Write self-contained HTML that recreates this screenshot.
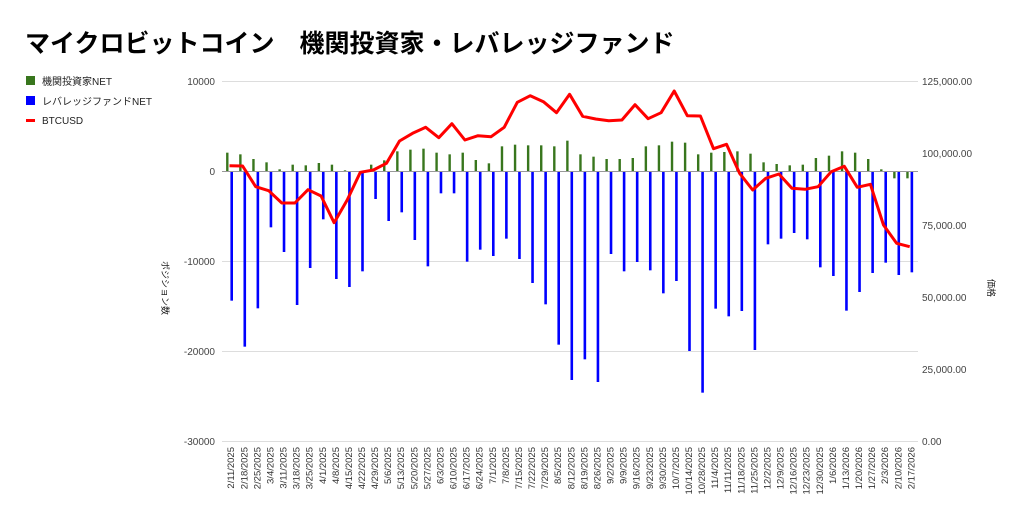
<!DOCTYPE html>
<html><head><meta charset="utf-8"><style>
body{margin:0;background:#fff;width:1024px;height:522px;overflow:hidden}
</style></head><body>
<svg id="s" width="1024" height="522" xmlns="http://www.w3.org/2000/svg" font-family="Liberation Sans, Noto Sans CJK JP, sans-serif">
<text x="25" y="52" font-size="25" font-weight="bold" fill="#000">マイクロビットコイン　機関投資家・レバレッジファンド</text>
<rect x="26" y="76" width="9" height="9" fill="#38761d"/>
<text x="42" y="85" font-size="10" fill="#222">機関投資家NET</text>
<rect x="26" y="96" width="9" height="9" fill="#0000ff"/>
<text x="42" y="105" font-size="10" fill="#222">レバレッジファンドNET</text>
<rect x="26" y="119" width="9" height="3" fill="#ff0000"/>
<text x="42" y="124" font-size="10" fill="#222">BTCUSD</text>
<g stroke="#ddd" stroke-width="1">
<line x1="222" y1="81.5" x2="918" y2="81.5"/>
<line x1="222" y1="261.5" x2="918" y2="261.5"/>
<line x1="222" y1="351.5" x2="918" y2="351.5"/>
<line x1="222" y1="441.5" x2="918" y2="441.5"/>
</g>
<g font-size="10" fill="#444" text-anchor="end">
<text x="215" y="85">10000</text><text x="215" y="175">0</text><text x="215" y="265">-10000</text><text x="215" y="355">-20000</text><text x="215" y="445">-30000</text>
</g>
<g font-size="10" fill="#444">
<text x="922" y="85">125,000.00</text><text x="922" y="157">100,000.00</text><text x="922" y="229">75,000.00</text><text x="922" y="301">50,000.00</text><text x="922" y="373">25,000.00</text><text x="922" y="445">0.00</text>
</g>
<text transform="translate(162,288) rotate(90)" font-size="9" fill="#222" text-anchor="middle">ポジション数</text>
<text transform="translate(988,288) rotate(90)" font-size="9" fill="#222" text-anchor="middle">価格</text>
<g id="bars"></g>
<line x1="222" y1="171.5" x2="918" y2="171.5" stroke="#999" stroke-width="1"/>
<polyline id="btc" fill="none" stroke="#ff0000" stroke-width="3" stroke-linejoin="round"/>
<g id="lbl" font-size="9.5" fill="#333" text-anchor="end"></g>
</svg>
<script>
var g=[233,238,252,262,283,269,271,264,269,286,290,269,256,229,224,221,233,238,233,255,265,214,209,211,211,214,197,238,245,252,252,249,214,211,200,203,238,233,231,229,236,262,267,271,269,249,242,229,233,252,283,310,310];
var b=[677,815,700,457,531,690,579,433,612,636,589,372,438,412,495,574,355,355,560,524,543,491,552,624,688,809,915,853,921,537,589,561,586,655,618,828,953,701,724,708,825,508,491,474,493,577,603,707,651,594,563,600,592];
var l=[272,273,335,347,384,384,344,363,443,375,292,285,265,198,175,157,188,146,195,182,185,157,82,62,80,113,58,124,132,137,135,89,131,113,48,122,123,221,208,295,345,310,297,340,343,335,290,274,337,328,450,505,515];
var NS="http://www.w3.org/2000/svg",bars=document.getElementById("bars"),h="",pts=[];
var z=171.7;
for(var i=0;i<53;i++){
 var gx=227.3+13.08*i, bx=gx+4.4;
 var gy=75+g[i]/3, by=75+b[i]/3;
 h+='<rect x="'+(gx-1.2)+'" y="'+Math.min(gy,z)+'" width="2.4" height="'+Math.abs(z-gy)+'" fill="#38761d"/>';
 h+='<rect x="'+(bx-1.3)+'" y="'+z+'" width="2.6" height="'+(by-z)+'" fill="#0000ff"/>';
 pts.push((gx+2.2).toFixed(1)+","+(75+l[i]/3).toFixed(1));
}
bars.innerHTML=h;
document.getElementById("btc").setAttribute("points",pts.join(" "));
var d=new Date(2025,1,11),L="",k=0;
for(var j=0;j<54;j++){
 var dd=new Date(d.getTime()+j*7*864e5);
 var s=(dd.getMonth()+1)+"/"+dd.getDate()+"/"+dd.getFullYear();
 if(s=="10/21/2025")continue;
 var x=230.7+13.08*k;
 L+='<text transform="translate('+(x+3.5)+',447) rotate(-90)">'+s+'</text>';
 k++;
}
document.getElementById("lbl").innerHTML=L;
</script>
</body></html>
